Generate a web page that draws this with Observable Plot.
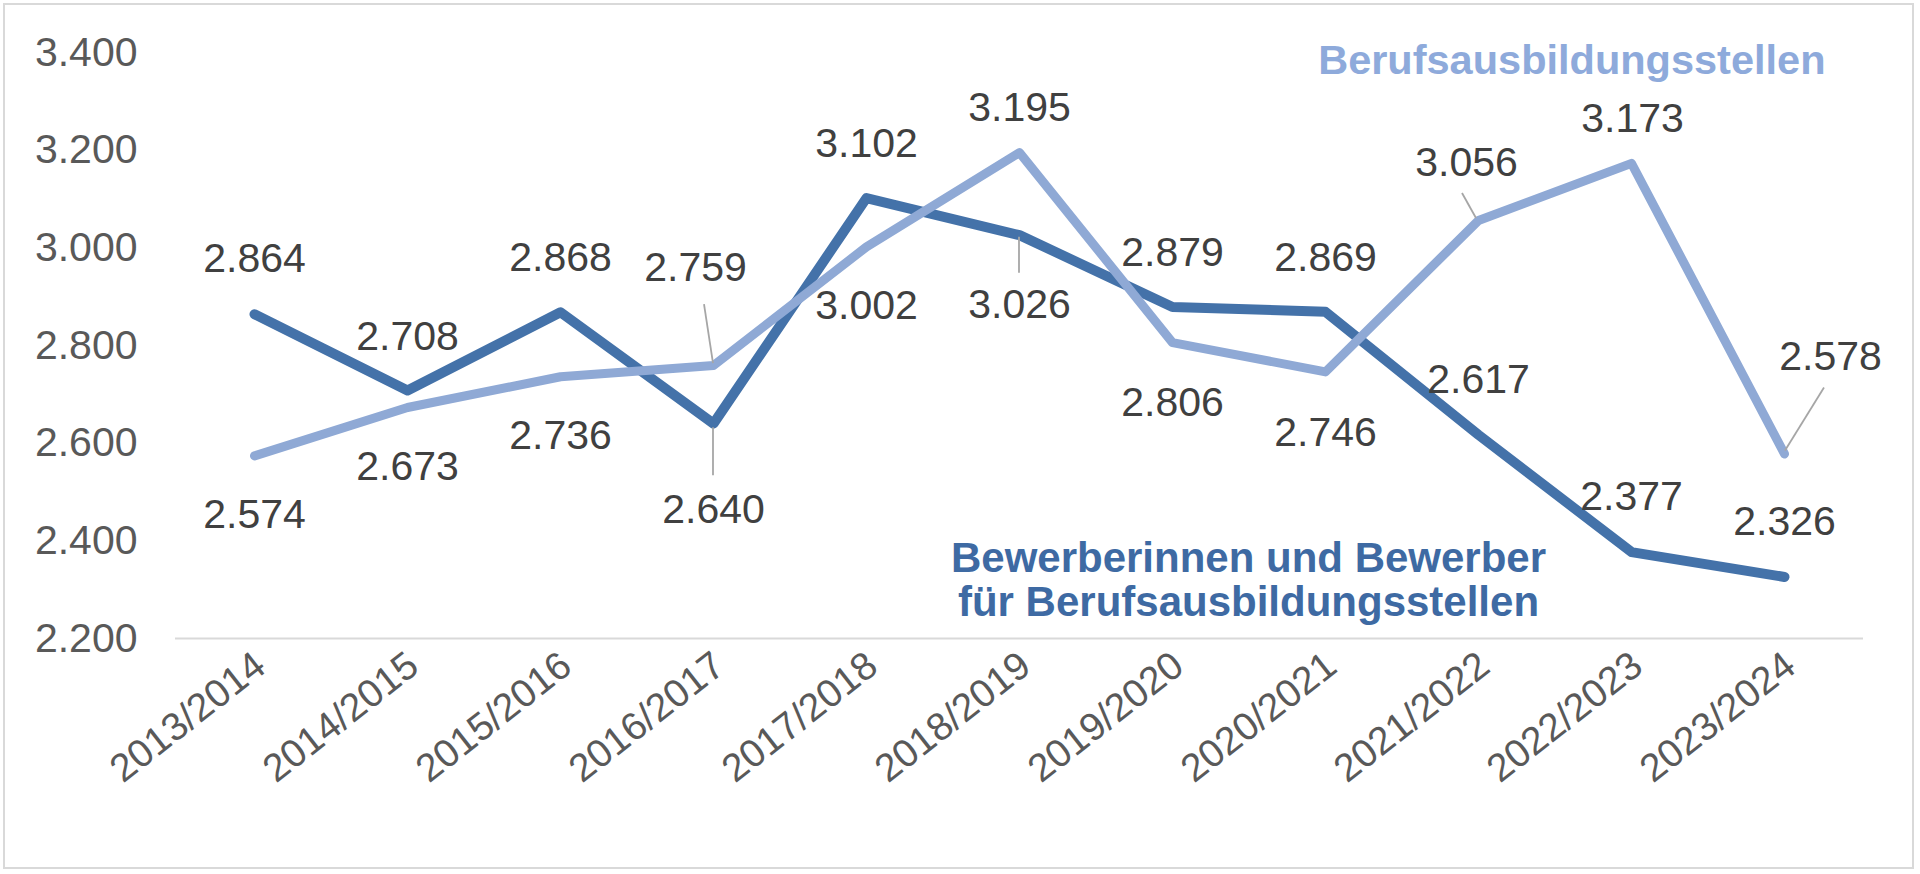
<!DOCTYPE html>
<html>
<head>
<meta charset="utf-8">
<script src="https://cdn.jsdelivr.net/npm/d3@7"></script>
<script src="https://cdn.jsdelivr.net/npm/@observablehq/plot@0.6"></script>
<style>
  html, body { margin: 0; padding: 0; background: #ffffff; }
  #wrap { position: relative; width: 1920px; height: 874px; overflow: hidden; }
  #frame { position: absolute; left: 3px; top: 3px; width: 1911px; height: 866px; box-sizing: border-box; border: 2px solid #d9d9d9; pointer-events: none; }
  #chart { position: absolute; left: 0; top: 0; }
</style>
</head>
<body>
<div id="wrap"><div id="chart"></div><div id="frame"></div></div>
<script>
// ---- data ----
const categories = ["2013/2014", "2014/2015", "2015/2016", "2016/2017", "2017/2018", "2018/2019", "2019/2020", "2020/2021", "2021/2022", "2022/2023", "2023/2024"];
const bewerber = [2864, 2708, 2868, 2640, 3102, 3026, 2879, 2869, 2617, 2377, 2326];
const stellen = [2574, 2673, 2736, 2759, 3002, 3195, 2806, 2746, 3056, 3173, 2578];
const yTicks = [2200, 2400, 2600, 2800, 3000, 3200, 3400];
const seriesNames = ["Bewerberinnen und Bewerber\nfür Berufsausbildungsstellen", "Berufsausbildungsstellen"];

// ---- label layout (pixel offsets from each point) ----
const darkDx = [0, 0, 0, 0, 0, 0, 0, 0, 0, 0, 0];
const darkDy = [-55, -54, -54, 86, -54, 70, -54, -54, -55, -55, -55];
const lightDx = [0, 0, 0, -18, 0, 0, 0, 0, -12, 1, 46];
const lightDy = [59, 59, 59, -98, 59, -45, 60, 61, -58, -44, -97];
// leader lines: [series, index, startDx, startDy, endDx, endDy]
const leaders = [
  ["dark", 3, 0, 4, 0, 52],
  ["dark", 5, 0, 2, 0, 38],
  ["light", 3, 0, -2, -9, -61],
  ["light", 8, -2, -2, -16, -27],
  ["light", 10, 1, -3, 40, -66]
];

const darkColor = "#4472a9";
const lightColor = "#8fa9d5";
const darkText = "#3e6aa3";
const lightText = "#8eaadb";
const labelColor = "#404040";

const de = d3.formatLocale({decimal: ",", thousands: ".", grouping: [3], currency: ["", " €"]});
const fmt = de.format(",d");

const darkRows = categories.map((c, i) => ({cat: c, value: bewerber[i]}));
const lightRows = categories.map((c, i) => ({cat: c, value: stellen[i]}));

const darkLabels = darkRows.map((r, i) => Plot.text([r], {
  x: "cat", y: "value", text: d => fmt(d.value), dx: darkDx[i], dy: darkDy[i],
  fontSize: 41, fill: labelColor
}));
const lightLabels = lightRows.map((r, i) => Plot.text([r], {
  x: "cat", y: "value", text: d => fmt(d.value), dx: lightDx[i], dy: lightDy[i],
  fontSize: 41, fill: labelColor
}));

const chart = Plot.plot({
  width: 1920,
  height: 874,
  marginTop: 52,
  marginBottom: 236,
  marginLeft: 175,
  marginRight: 57,
  style: {fontFamily: "'Liberation Sans', Arial, sans-serif", fontSize: "41px", color: "#595959", background: "transparent", overflow: "visible"},
  x: {type: "point", domain: categories, padding: 0.5},
  y: {domain: [2200, 3400], ticks: yTicks, tickFormat: fmt, tickSize: 0, tickPadding: 38, label: null},
  marks: [
    Plot.axisX({tickSize: 0, tickPadding: 22, tickRotate: -38, fontSize: 39, dx: 6, label: null}),
    Plot.ruleY([2200], {stroke: "#d9d9d9", strokeWidth: 2}),
    Plot.line(darkRows, {x: "cat", y: "value", stroke: darkColor, strokeWidth: 10, strokeLinecap: "round", strokeLinejoin: "round"}),
    Plot.line(lightRows, {x: "cat", y: "value", stroke: lightColor, strokeWidth: 9, strokeLinecap: "round", strokeLinejoin: "round"}),
    ...darkLabels,
    ...lightLabels,
    Plot.text([seriesNames[1]], {frameAnchor: "top-right", dx: -38, dy: -8, textAnchor: "end", fontSize: 41.5, fontWeight: "bold", fill: lightText}),
    Plot.text([seriesNames[0]], {frameAnchor: "top-left", dx: 1073, dy: 488, textAnchor: "middle", lineHeight: 1.05, fontSize: 42, fontWeight: "bold", fill: darkText})
  ]
});

// leader lines positioned through the plot's own scales
const xs = chart.scale("x"), ys = chart.scale("y");
const g = d3.select(chart).append("g").attr("stroke", "#a6a6a6").attr("stroke-width", 1.8);
leaders.forEach(([s, i, sdx, sdy, edx, edy]) => {
  const v = s === "dark" ? bewerber[i] : stellen[i];
  const px = xs.apply(categories[i]), py = ys.apply(v);
  g.append("line").attr("x1", px + sdx).attr("y1", py + sdy).attr("x2", px + edx).attr("y2", py + edy);
});

document.getElementById("chart").appendChild(chart);
</script>
</body>
</html>
